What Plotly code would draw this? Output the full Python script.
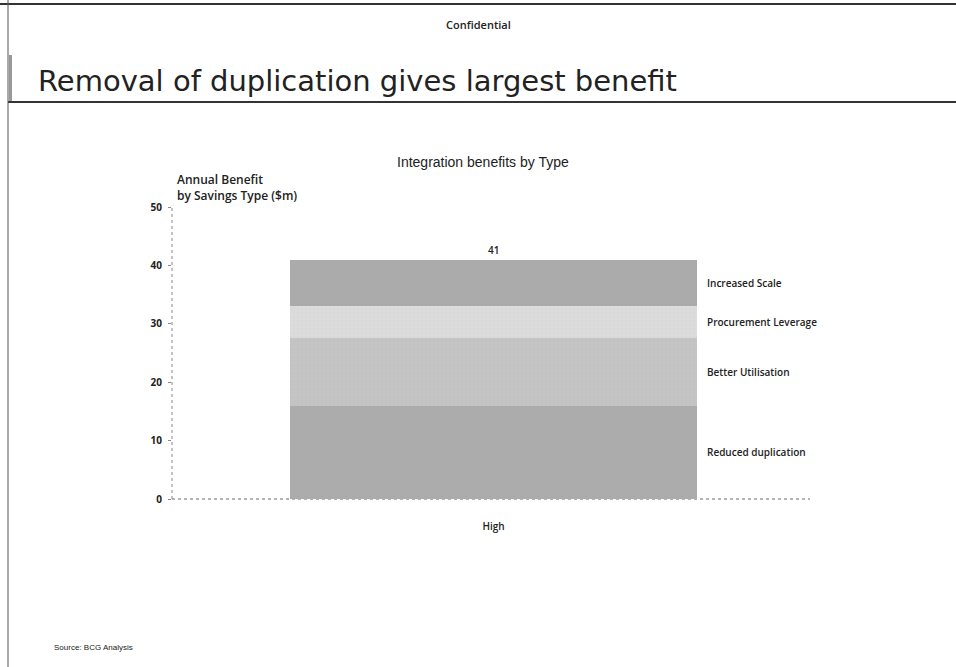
import plotly.graph_objects as go

# Stacked annual benefit by savings type ($m), bottom to top
category = ["High"]
savings_types = ["Reduced duplication", "Better Utilisation", "Procurement Leverage", "Increased Scale"]
savings_values = [16, 11.5, 5.5, 8]
segment_colors = ["#acacac", "#c4c4c4", "#dcdcdc", "#ababab"]
y_ticks = [0, 10, 20, 30, 40, 50]

W, H = 956, 667
PL, PR, PT, PB = 172, 810, 207, 499  # plot area in pixels
BAR_W = 0.638

def px_x(px):
    return (px - PL) / (PR - PL)

def px_y(py):
    return (PB - py) / (PB - PT)

fig = go.Figure()
for name, val, col in zip(savings_types, savings_values, segment_colors):
    fig.add_trace(go.Bar(
        x=category, y=[val], name=name, width=BAR_W,
        marker=dict(color=col, line=dict(width=0),
                    pattern=dict(shape="+", fgcolor="rgba(150,150,150,0.35)", size=4, solidity=0.15)),
        showlegend=False, hoverinfo="skip",
    ))

label_font = dict(family="Open Sans", size=10, color="#222", weight=600)

annotations = []
# Segment labels at segment midpoints, right of the bar
cum = 0
for name, val in zip(savings_types, savings_values):
    mid = cum + val / 2
    cum += val
    annotations.append(dict(
        x=BAR_W / 2, y=mid, xref="x", yref="y", text=name, showarrow=False,
        xanchor="left", yanchor="middle", xshift=8, font=label_font,
    ))
# Total on top
annotations.append(dict(
    x=category[0], y=cum, xref="x", yref="y", text=str(round(cum)), showarrow=False,
    xanchor="center", yanchor="bottom", yshift=1, font=label_font,
))

# Page texts
annotations += [
    dict(x=px_x(478), y=px_y(24), xref="paper", yref="paper", text="Confidential",
         showarrow=False, xanchor="center", yanchor="middle",
         font=dict(family="Open Sans", size=11, color="#222", weight=600)),
    dict(x=px_x(36), y=px_y(81), xref="paper", yref="paper",
         text="Removal of duplication gives largest benefit",
         showarrow=False, xanchor="left", yanchor="middle",
         font=dict(family="DejaVu Sans", size=29, color="#222")),
    dict(x=px_x(483), y=px_y(162), xref="paper", yref="paper", text="Integration benefits by Type",
         showarrow=False, xanchor="center", yanchor="middle",
         font=dict(family="Arial", size=14, color="#222")),
    dict(x=px_x(175), y=px_y(187), xref="paper", yref="paper",
         text="Annual Benefit<br>by Savings Type ($m)",
         showarrow=False, xanchor="left", yanchor="middle", align="left",
         font=dict(family="Open Sans", size=12, color="#222", weight=600)),
    dict(x=px_x(52), y=px_y(647), xref="paper", yref="paper", text="Source: BCG Analysis",
         showarrow=False, xanchor="left", yanchor="middle",
         font=dict(family="Arial", size=8, color="#222")),
]

shapes = [
    # page frame lines
    dict(type="line", xref="paper", yref="paper", x0=px_x(0), x1=px_x(W), y0=px_y(4), y1=px_y(4),
         line=dict(color="#333", width=2)),
    dict(type="line", xref="paper", yref="paper", x0=px_x(8), x1=px_x(W), y0=px_y(102), y1=px_y(102),
         line=dict(color="#333", width=2)),
    dict(type="line", xref="paper", yref="paper", x0=px_x(8), x1=px_x(8), y0=px_y(0), y1=px_y(H),
         line=dict(color="#555", width=1)),
    dict(type="rect", xref="paper", yref="paper", x0=px_x(9), x1=px_x(12), y0=px_y(55), y1=px_y(101),
         line=dict(width=0), fillcolor="#999"),
    # dotted baseline and value axis
    dict(type="line", xref="paper", yref="paper", x0=0, x1=1, y0=0, y1=0,
         line=dict(color="#666", width=1, dash="dot"), layer="below"),
    dict(type="line", xref="paper", yref="paper", x0=0, x1=0, y0=0, y1=1,
         line=dict(color="#888", width=1, dash="dot"), layer="below"),
]

fig.update_layout(
    width=W, height=H,
    margin=dict(l=PL, r=W - PR, t=PT, b=H - PB, autoexpand=False),
    barmode="stack",
    paper_bgcolor="white", plot_bgcolor="white",
    xaxis=dict(range=[-0.504, 0.496], showgrid=False, zeroline=False, showline=False,
               ticks="", ticklabelstandoff=20,
               tickfont=dict(family="Open Sans", size=10, color="#222", weight=600)),
    yaxis=dict(range=[0, 50], tickvals=y_ticks, showgrid=False, zeroline=False,
               showline=False, ticks="outside", ticklen=3, tickcolor="#888",
               ticklabelstandoff=4,
               tickfont=dict(family="Open Sans", size=10, color="#222", weight=700)),
    annotations=annotations,
    shapes=shapes,
)

fig.write_html("out.html")
